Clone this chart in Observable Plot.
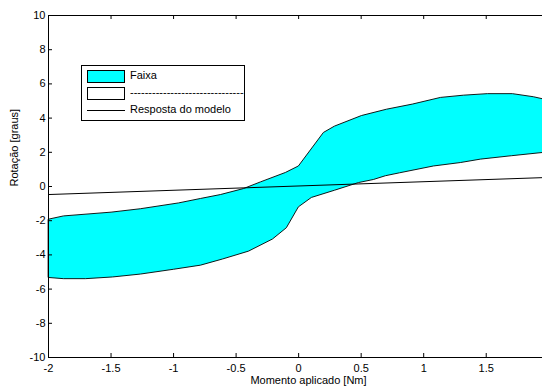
<!DOCTYPE html>
<html>
<head>
<meta charset="utf-8">
<script src="https://cdn.jsdelivr.net/npm/d3@7"></script>
<script src="https://cdn.jsdelivr.net/npm/@observablehq/plot@0.6"></script>
<style>
  html, body { margin: 0; padding: 0; background: #fff; }
  #wrap { position: relative; width: 542px; height: 389px; overflow: hidden; font-family: "Liberation Sans", Arial, sans-serif; }
  #legend { position: absolute; left: 81px; top: 65px; width: 162px; height: 54px; border: 1px solid #000; background: #fff; font-size: 11px; }
  .row { position: absolute; left: 5px; height: 13px; }
  .sw { position: absolute; left: 0; top: 0; width: 36px; height: 11px; border: 1px solid #000; }
  .lab { position: absolute; left: 43px; top: -1px; white-space: nowrap; line-height: 13px; }
</style>
</head>
<body>
<div id="wrap">
  <div id="chart"></div>
  <div id="legend">
    <div class="row" style="top:4px"><div class="sw" style="background:#00ffff"></div><div class="lab">Faixa</div></div>
    <div class="row" style="top:21px"><div class="sw" style="background:#fff"></div><div class="lab">-------------------------------</div></div>
    <div class="row" style="top:38px"><div style="position:absolute;left:0;top:6px;width:38px;height:0;border-top:1px solid #000"></div><div class="lab">Resposta do modelo</div></div>
  </div>
</div>
<script>
// Upper boundary of the band
const upperX = [-2, -1.88, -1.5, -1.265, -0.96, -0.785, -0.625, -0.441, -0.305, -0.106, -0.002, 0.198, 0.286, 0.502, 0.702, 0.91, 1.134, 1.317, 1.509, 1.709, 1.877, 1.95];
const upperY = [-1.91, -1.72, -1.50, -1.30, -0.96, -0.70, -0.47, -0.12, 0.27, 0.82, 1.20, 3.16, 3.53, 4.15, 4.52, 4.82, 5.21, 5.34, 5.43, 5.43, 5.25, 5.13];
// Lower boundary of the band
const lowerX = [-2, -1.88, -1.704, -1.488, -1.265, -1.0, -0.785, -0.609, -0.401, -0.209, -0.098, -0.002, 0.102, 0.286, 0.478, 0.598, 0.694, 0.806, 1.078, 1.293, 1.453, 1.701, 1.95];
const lowerY = [-5.32, -5.39, -5.39, -5.29, -5.12, -4.84, -4.60, -4.24, -3.78, -3.07, -2.41, -1.19, -0.64, -0.22, 0.23, 0.41, 0.63, 0.80, 1.20, 1.40, 1.60, 1.80, 1.99];
// Model response
const modelX = [-2, 2];
const modelY = [-0.47, 0.53];
// Ticks
const xTicks = [-2, -1.5, -1, -0.5, 0, 0.5, 1, 1.5];
const yTicks = [-10, -8, -6, -4, -2, 0, 2, 4, 6, 8, 10];

const band = [
  ...upperX.map((x, i) => ({x, y: upperY[i]})),
  ...lowerX.map((x, i) => ({x, y: lowerY[i]})).reverse()
];
const model = modelX.map((x, i) => ({x, y: modelY[i]}));

const W = 542, H = 389, mL = 48, mR = 0, mT = 15, mB = 32;
const plotW = W - mL - mR, plotH = H - mT - mB;
const fmt = d => String(d);

const chart = Plot.plot({
  width: W, height: H,
  marginLeft: mL, marginRight: mR, marginTop: mT, marginBottom: mB,
  style: {fontFamily: "Liberation Sans, Arial, sans-serif", fontSize: "11px", color: "#000", background: "#fff"},
  x: {domain: [-2, 1.95]},
  y: {domain: [-10, 10]},
  marks: [
    Plot.line(band, {x: "x", y: "y", fill: "#00ffff", stroke: "#000", strokeWidth: 0.9, curve: "linear-closed"}),
    Plot.line(model, {x: "x", y: "y", stroke: "#000", strokeWidth: 1}),
    // frame (right side clipped in original)
    Plot.ruleX([-2], {stroke: "#000", strokeWidth: 1}),
    Plot.ruleY([-10, 10], {stroke: "#000", strokeWidth: 1}),
    // inward ticks
    Plot.tickX(xTicks, {x: d => d, insetTop: plotH - 4, stroke: "#000"}),
    Plot.tickX(xTicks, {x: d => d, insetBottom: plotH - 4, stroke: "#000"}),
    Plot.tickY(yTicks, {y: d => d, insetRight: plotW - 4, stroke: "#000"}),
    Plot.axisX(xTicks, {tickSize: 0, tickPadding: 7, label: null, fontSize: 11, tickFormat: fmt}),
    Plot.axisY(yTicks, {tickSize: 0, tickPadding: 3, label: null, fontSize: 11, tickFormat: fmt}),
    Plot.text(["Rotação [graus]"], {frameAnchor: "left", rotate: -90, dx: -34, fontSize: 11, fill: "#000"}),
    Plot.text(["Momento aplicado [Nm]"], {frameAnchor: "bottom", dy: 26, dx: 13, fontSize: 11, fill: "#000"})
  ]
});
document.getElementById("chart").appendChild(chart);
</script>
</body>
</html>
